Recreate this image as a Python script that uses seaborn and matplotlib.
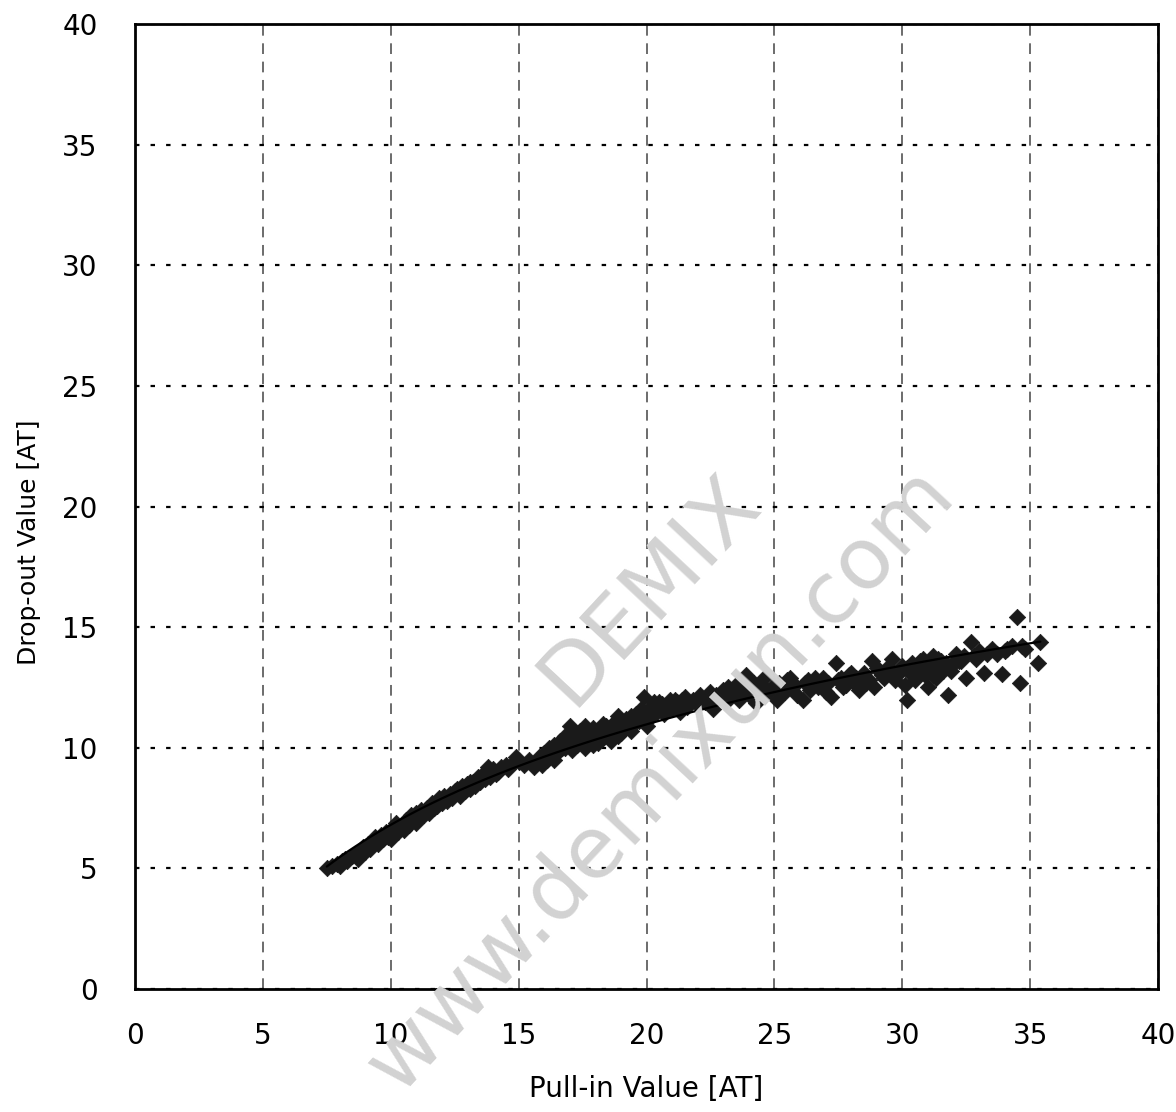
import numpy as np
import pandas as pd
import matplotlib
matplotlib.use("Agg")
import matplotlib.pyplot as plt
import seaborn as sns

# Pull-in vs drop-out readings [AT]
pull_in = [
    7.5, 7.7, 7.9, 8.0, 8.2, 8.3, 8.5, 8.6, 8.7, 8.8, 8.9, 9.0, 9.1, 9.2, 9.3, 9.4,
    9.5, 9.6, 9.7, 9.8, 9.9, 10.0, 10.0, 10.1, 10.2, 10.3, 10.4, 10.5, 10.5, 10.6,
    10.7, 10.8, 10.9, 11.0, 11.0, 11.1, 11.2, 11.3, 11.4, 11.5, 11.6, 11.7, 11.8,
    11.9, 12.0, 12.1, 12.2, 12.3, 12.4, 12.5, 12.6, 12.7, 12.8, 12.9, 13.0, 13.1,
    13.2, 13.3, 13.4, 13.5, 13.6, 13.7, 13.8, 13.9, 14.0, 14.2, 14.3, 14.5, 14.6,
    14.8, 15.0, 15.2, 15.4, 15.6, 15.8, 15.9, 16.0, 16.1, 16.2, 16.3, 16.4, 16.5,
    16.6, 16.7, 16.8, 16.9, 17.0, 17.0, 17.1, 17.2, 17.3, 17.4, 17.5, 17.6, 17.7,
    17.8, 17.9, 18.0, 18.1, 18.2, 18.3, 18.4, 18.5, 18.6, 18.7, 18.8, 18.9, 19.0,
    19.1, 19.2, 19.3, 19.4, 19.5, 19.6, 19.7, 19.8, 19.9, 19.9, 20.0, 20.0,
    8.1, 9.4, 10.2, 10.9, 11.6, 12.4, 13.1, 13.8, 14.1, 14.9, 16.4, 17.2, 18.3,
    19.0, 16.8, 17.6, 18.9,
    20.1, 20.2, 20.3, 20.4, 20.6, 20.7, 20.9, 21.0, 21.2, 21.3, 21.5, 21.6, 21.8,
    22.0, 22.1, 22.3, 22.5, 22.6, 22.8, 23.0, 23.1, 23.3, 23.5, 23.6, 23.8, 23.9,
    24.0, 24.2, 24.3, 24.5, 24.6, 24.8, 25.0, 25.1, 25.3, 25.5, 25.7, 25.9, 26.1,
    26.2, 26.4, 26.6, 26.8, 27.0, 27.2, 27.4, 27.5, 27.7, 27.9, 28.1, 28.3, 28.5,
    28.7, 28.8, 28.9, 29.1, 29.3, 29.5, 29.6, 29.8, 30.0, 30.1, 30.2, 30.3, 30.4,
    30.5, 30.6, 30.8, 30.9, 31.0, 31.1, 31.2, 31.3, 31.5, 31.6, 31.8, 31.9, 32.1,
    32.3, 32.5, 32.7, 32.8, 33.0, 33.2, 33.5, 33.9, 34.0, 34.3, 34.5, 34.6, 34.8,
    35.3, 35.4,
    21.1, 22.4, 23.2, 24.4, 25.6, 26.9, 28.0, 29.0, 30.7, 31.4, 32.0, 33.7,
    20.5, 20.8, 21.4, 21.9, 22.2, 22.7, 23.4, 23.7, 24.1, 24.7, 25.2, 25.4,
    25.8, 26.3, 26.7, 27.1, 27.6, 27.8, 28.2, 28.6, 29.2, 29.4, 29.7, 29.9,
    30.2, 30.5, 30.7, 31.0, 31.2, 31.4, 31.7, 31.9, 32.2, 32.4, 32.9, 33.3,
    34.1, 34.7, 19.4, 18.6, 17.9, 17.3,
]
drop_out = [
    5.0, 5.1, 5.2, 5.1, 5.4, 5.3, 5.5, 5.6, 5.4, 5.7, 5.9, 5.7, 6.0, 5.8, 6.1, 6.3,
    6.0, 6.4, 6.2, 6.5, 6.3, 6.6, 6.2, 6.4, 6.8, 6.5, 6.7, 6.9, 6.6, 7.0,
    6.8, 7.2, 7.0, 7.3, 6.9, 7.1, 7.4, 7.2, 7.5, 7.3, 7.7, 7.5, 7.6,
    7.9, 7.7, 8.0, 7.8, 8.1, 7.9, 8.2, 8.3, 8.0, 8.4, 8.2, 8.5, 8.3,
    8.6, 8.4, 8.8, 8.6, 8.9, 8.7, 9.0, 8.8, 9.1, 9.0, 9.2, 9.3, 9.1,
    9.4, 9.4, 9.3, 9.5, 9.2, 9.6, 9.3, 9.8, 9.5, 10.0, 9.7, 10.1, 9.8,
    10.3, 10.0, 10.5, 10.2, 10.9, 10.4, 9.9, 10.6, 10.2, 10.7, 10.4, 10.0, 10.6,
    10.3, 10.8, 10.5, 10.2, 10.7, 10.4, 10.9, 10.6, 10.3, 11.0, 10.7, 10.5, 11.1,
    10.8, 11.2, 10.9, 11.3, 11.0, 11.4, 11.1, 11.6, 12.1, 11.5, 11.2, 10.9,
    5.3, 6.2, 6.9, 7.1, 7.6, 8.0, 8.6, 9.2, 8.9, 9.6, 9.5, 10.3, 11.0,
    10.6, 10.0, 10.9, 11.3,
    11.6, 11.3, 11.9, 11.5, 11.8, 11.4, 12.0, 11.6, 11.9, 11.5, 12.1, 11.7, 12.0,
    11.8, 12.2, 11.9, 12.3, 11.6, 12.1, 12.4, 11.9, 12.2, 12.6, 12.0, 12.4, 13.0,
    12.2, 12.7, 11.85, 12.5, 12.9, 12.3, 12.6, 12.0, 12.4, 12.8, 12.5, 12.2, 12.0,
    12.7, 12.4, 12.9, 12.6, 12.3, 12.1, 13.5, 12.8, 12.5, 13.0, 12.7, 12.4, 13.1,
    12.8, 13.6, 12.5, 13.2, 12.9, 13.3, 13.7, 13.0, 13.4, 12.6, 12.0, 13.1, 13.5,
    12.8, 13.2, 13.7, 13.0, 12.5, 13.4, 13.8, 12.9, 13.6, 13.2, 12.2, 13.4, 13.9,
    13.6, 12.9, 14.4, 13.8, 14.0, 13.1, 14.1, 13.05, 14.0, 14.2, 15.4, 12.7, 14.1,
    13.5, 14.4,
    12.0, 12.0, 12.5, 12.6, 12.9, 12.9, 13.1, 13.3, 13.6, 13.1, 13.5, 13.9,
    11.9, 11.7, 12.0, 11.9, 12.0, 12.2, 12.3, 12.5, 12.6, 12.4, 12.7, 12.3,
    12.6, 12.8, 12.5, 12.7, 12.9, 12.6, 12.9, 12.7, 13.0, 13.3, 12.8, 13.2,
    13.3, 13.0, 13.3, 13.2, 13.0, 13.7, 13.5, 13.2, 13.6, 13.8, 13.7, 13.9,
    14.1, 14.2, 10.7, 10.9, 10.1, 10.1,
]

df = pd.DataFrame({"pull_in": pull_in, "drop_out": drop_out})

x_ticks = [0, 5, 10, 15, 20, 25, 30, 35, 40]
y_ticks = [0, 5, 10, 15, 20, 25, 30, 35, 40]

sns.set_style("white")
plt.rcParams["font.family"] = ["DejaVu Sans"]
plt.rcParams["text.color"] = "black"
plt.rcParams["axes.labelcolor"] = "black"
plt.rcParams["xtick.color"] = "black"
plt.rcParams["ytick.color"] = "black"

fig = plt.figure(figsize=(11.76, 11.12), dpi=100)
ax = fig.add_axes([0.1148, 0.1106, 0.8699, 0.8678])

# scatter + logarithmic trend line
sns.regplot(data=df, x="pull_in", y="drop_out", ax=ax, logx=True, ci=None,
            marker="D", color="#1a1a1a",
            scatter_kws=dict(s=70, edgecolor="#1a1a1a", linewidths=0.5, alpha=1),
            line_kws=dict(color="black", lw=1.6))

ax.set_xlim(0, 40)
ax.set_ylim(0, 40)
ax.set_xticks(x_ticks)
ax.set_yticks(y_ticks)
ax.tick_params(axis="x", length=0, pad=24, labelsize=20, labelcolor="black")
ax.tick_params(axis="y", length=0, pad=27, labelsize=20, labelcolor="black")

ax.set_axisbelow(True)
ax.xaxis.grid(True, color="#444444", linestyle=(0, (7, 5)), lw=1.1)
ax.yaxis.grid(True, color="black", linestyle=(0, (2, 5)), lw=1.6)

for s in ax.spines.values():
    s.set_visible(True)
    s.set_color("black")
    s.set_linewidth(2)

ax.set_xlabel("Pull-in Value [AT]", fontsize=20, labelpad=18, color="black")
ax.set_ylabel("Drop-out Value [AT]", fontsize=18, labelpad=14, color="black")
ax.yaxis.set_label_coords(-0.092, 0.463)

# watermark
fig.text(650 / 1176, 1 - 590 / 1112, "DEMIX", fontsize=62, color="#d2d2d2",
         rotation=47, ha="center", va="center", zorder=0.5)
fig.text(660 / 1176, 1 - 780 / 1112, "www.demixun.com", fontsize=62, color="#d2d2d2",
         rotation=47, ha="center", va="center", zorder=0.5)

fig.savefig("out.png", dpi=100)
